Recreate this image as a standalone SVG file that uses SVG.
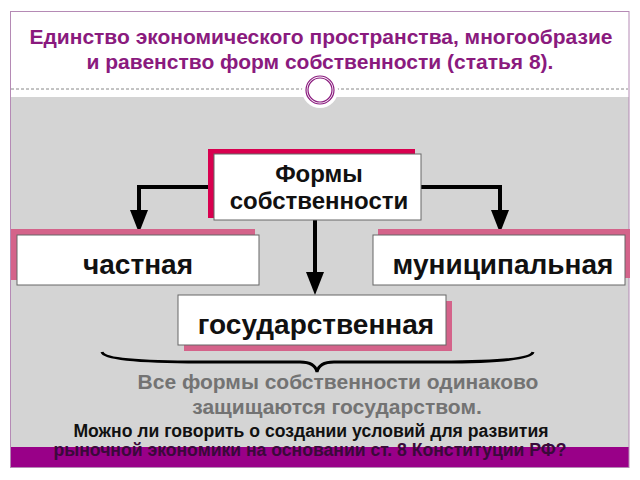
<svg xmlns="http://www.w3.org/2000/svg" width="640" height="480" viewBox="0 0 640 480">
<style>
.t{font-family:"Liberation Sans",Arial,sans-serif;font-weight:bold;text-anchor:middle}
.title{fill:#8a1a7e;font-size:21px}
.box{fill:#fff;stroke:#666;stroke-width:1}
.lbl{fill:#111;font-size:28px}
.conn{fill:none;stroke:#000;stroke-width:4}
</style>
<rect x="0" y="0" width="640" height="480" fill="#fff"/>
<rect x="10" y="97" width="619" height="351" fill="#d4d4d4"/>
<rect x="10" y="447" width="619" height="21" fill="#990088"/>
<rect x="10.5" y="11.5" width="618.5" height="456" fill="none" stroke="#b58ab5" stroke-width="1"/>
<line x1="11" y1="89" x2="628" y2="89" stroke="#888" stroke-width="1" stroke-dasharray="3,2"/>
<circle cx="320" cy="90" r="18" fill="#fff"/>
<circle cx="320" cy="90" r="14" fill="#fff" stroke="#8a1a7e" stroke-width="1.2"/>
<circle cx="320" cy="90" r="12" fill="none" stroke="#8a1a7e" stroke-width="1.2"/>
<g id="title">
<text class="t title" x="321" y="44">Единство экономического пространства, многообразие</text>
<text class="t title" x="320" y="69">и равенство форм собственности (статья 8).</text>
</g>
<g id="connectors">
<path class="conn" d="M214,187 H139 V212"/>
<polygon points="130,210 148,210 139,233" fill="#000"/>
<path class="conn" d="M421,187 H500 V212"/>
<polygon points="491,210 509,210 500,233" fill="#000"/>
<path class="conn" d="M315,220 V274"/>
<polygon points="306,272 324,272 315,295" fill="#000"/>
<path d="M102,352 Q104,362 200,362 L300,362 Q315,362 317,372 Q319,362 334,362 L440,362 Q531,362 533,352" fill="none" stroke="#000" stroke-width="3"/>
</g>
<g id="forms">
<rect x="208" y="149" width="207" height="69" fill="#d8004f"/>
<rect class="box" x="214" y="154" width="207" height="66"/>
<text class="t lbl" x="319" y="182" style="font-size:24px">Формы</text>
<text class="t lbl" x="319" y="209" style="font-size:24px">собственности</text>
</g>
<g id="private">
<rect x="11" y="229" width="244" height="51" fill="#d4638a"/>
<rect class="box" x="17" y="235" width="242" height="50"/>
<text class="t lbl" x="138" y="274">частная</text>
</g>
<g id="municipal">
<rect x="378" y="229" width="252" height="49" fill="#d4638a"/>
<rect class="box" x="373" y="235" width="252" height="50"/>
<text class="t lbl" x="503" y="274">муниципальная</text>
</g>
<g id="state">
<rect x="184" y="301" width="268" height="50" fill="#d4638a"/>
<rect class="box" x="178" y="295" width="268" height="50"/>
<text class="t lbl" x="316" y="334">государственная</text>
</g>
<g id="notes">
<text class="t" x="338" y="389" fill="#737373" font-size="21">Все формы собственности одинаково</text>
<text class="t" x="337" y="414" fill="#737373" font-size="21">защищаются государством.</text>
<text class="t" x="311" y="437" fill="#111" font-size="17.6">Можно ли говорить о создании условий для развития</text>
<text class="t" x="310" y="456" fill="#3a0a3a" font-size="17.6">рыночной экономики на основании ст. 8 Конституции РФ?</text>
</g>
</svg>
